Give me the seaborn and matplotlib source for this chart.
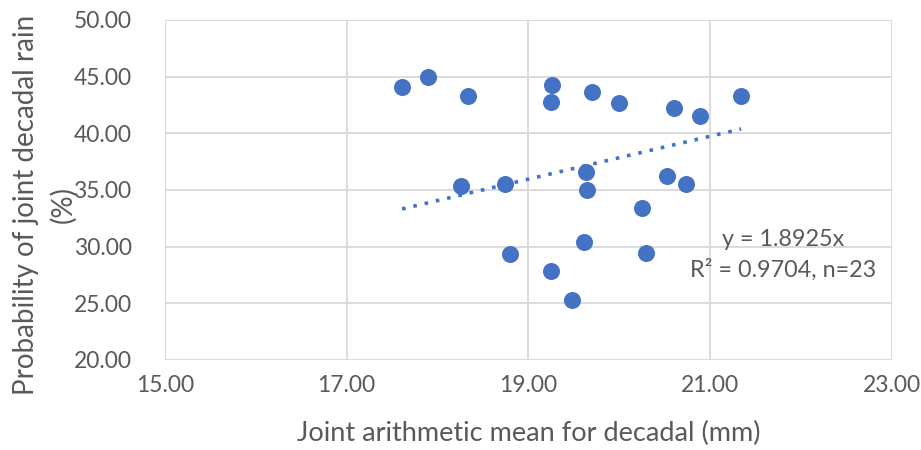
import numpy as np
import matplotlib
matplotlib.use("Agg")
import matplotlib.pyplot as plt
import seaborn as sns

# values
mean_mm = [17.61, 17.89, 18.34, 18.26, 18.74, 18.80, 19.25, 19.26, 19.25, 19.48, 19.61,
           19.63, 19.64, 19.70, 20.00, 20.25, 20.29, 20.53, 20.60, 20.73, 20.89, 21.34]
prob_pct = [44.09, 44.97, 43.29, 35.35, 35.52, 29.35, 42.76, 44.26, 27.85, 25.29, 30.41,
            36.58, 35.00, 43.65, 42.67, 33.41, 29.43, 36.23, 42.23, 35.52, 41.53, 43.29]
slope = 1.8925
x_ticks = [15, 17, 19, 21, 23]
y_ticks = [20, 25, 30, 35, 40, 45, 50]

sns.set_theme(style="white")
plt.rcParams['font.family'] = ['Lato', 'DejaVu Sans']

grey = '#595959'
blue = '#4472C4'

fig = plt.figure(figsize=(9.21, 4.5), dpi=100)
ax = fig.add_axes([0.179, 0.2, 0.7895, 0.7556])

sns.scatterplot(x=mean_mm, y=prob_pct, s=150, color=blue, edgecolor=blue, linewidth=0, ax=ax, zorder=3)

# trendline through origin, drawn over the data range
xs = np.array([min(mean_mm), max(mean_mm)])
ax.plot(xs, slope * xs, linestyle=(0, (1, 2.2)), color=blue, linewidth=2.6, zorder=2)

ax.set_xlim(15, 23)
ax.set_ylim(20, 50)
ax.set_xticks(x_ticks)
ax.set_yticks(y_ticks)
ax.set_xticklabels([f"{v:.2f}" for v in x_ticks])
ax.set_yticklabels([f"{v:.2f}" for v in y_ticks])
ax.grid(True, color='#d9d9d9', linewidth=1.3)
for s in ax.spines.values():
    s.set_visible(False)
ax.tick_params(axis='both', length=0, labelsize=16.5, labelcolor=grey)
ax.tick_params(axis='x', pad=11)
ax.tick_params(axis='y', pad=24)

ax.set_xlabel("Joint arithmetic mean for decadal (mm)", fontsize=19.5, color=grey)
ax.set_ylabel("Probability of joint decadal rain\n(%)", fontsize=20, color=grey, linespacing=1.5)
ax.xaxis.set_label_coords(0.5007, -0.18)
ax.yaxis.set_label_coords(-0.121, 0.456)

ax.text(21.8, 30.6, "y = 1.8925x", fontsize=16.8, color=grey, ha='center', va='center')
ax.text(21.8, 28.0, "R² = 0.9704, n=23", fontsize=16.8, color=grey, ha='center', va='center')

fig.savefig("out.png", dpi=100)
